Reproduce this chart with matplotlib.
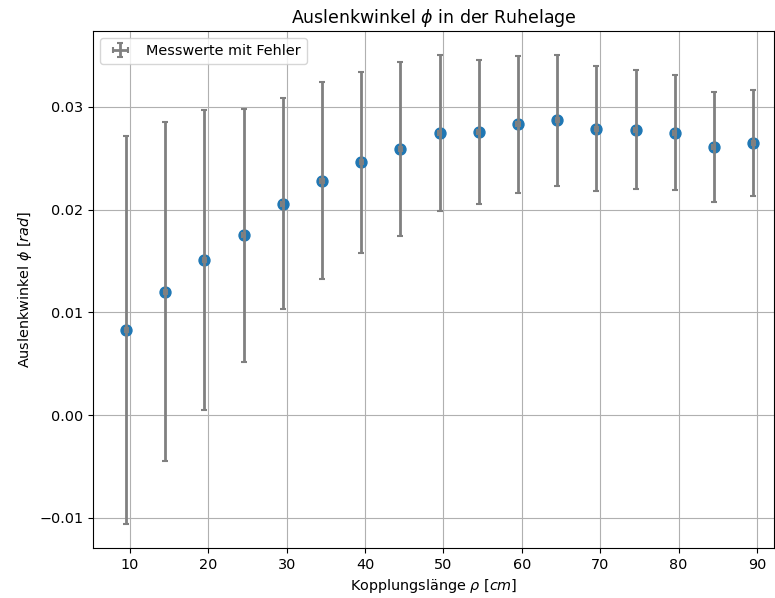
import numpy as np
import matplotlib
matplotlib.use('Agg')
import matplotlib.pyplot as plt

# Messdaten
laenge = [9.5, 14.5, 19.5, 24.5, 29.5, 34.5, 39.5, 44.5, 49.5, 54.5, 59.5, 64.5, 69.5, 74.5, 79.5, 84.5, 89.5]
winkel = [0.0083, 0.0120, 0.0151, 0.0175, 0.0206, 0.0228, 0.0246, 0.0259, 0.0275, 0.0276, 0.0283, 0.0287, 0.0279, 0.0278, 0.0275, 0.0261, 0.0265]
winkel_err = [0.0189, 0.0165, 0.0146, 0.0123, 0.0103, 0.0096, 0.0088, 0.0085, 0.0076, 0.0070, 0.0067, 0.0064, 0.0061, 0.0058, 0.0056, 0.0054, 0.0052]
laenge_err = [0.2] * len(laenge)

plt.rcParams['font.size'] = 10.4

fig = plt.figure(figsize=(7.75, 5.98), dpi=100)
ax = fig.add_axes([93/775, 1-548/598, (774-93)/775, (548-31)/598])

ax.scatter(laenge, winkel, s=62, color='tab:blue', zorder=2)
ax.errorbar(laenge, winkel, yerr=winkel_err, xerr=laenge_err, fmt='none', ecolor='gray',
            elinewidth=2, capsize=2.5, capthick=1.5, label='Messwerte mit Fehler', zorder=3)

ax.set_xlim(5.28, 92.17)
ax.set_ylim(-0.01295, 0.0374)
ax.set_yticks([-0.01, 0.0, 0.01, 0.02, 0.03])
ax.grid(True, zorder=0)
ax.set_axisbelow(True)
ax.set_xlabel(r'Kopplungslänge $\rho$ [$cm$]')
ax.set_ylabel(r'Auslenkwinkel $\phi$ [$rad$]')
ax.set_title(r'Auslenkwinkel $\phi$ in der Ruhelage')
ax.legend(loc='upper left')

plt.savefig('out.png', dpi=100)
